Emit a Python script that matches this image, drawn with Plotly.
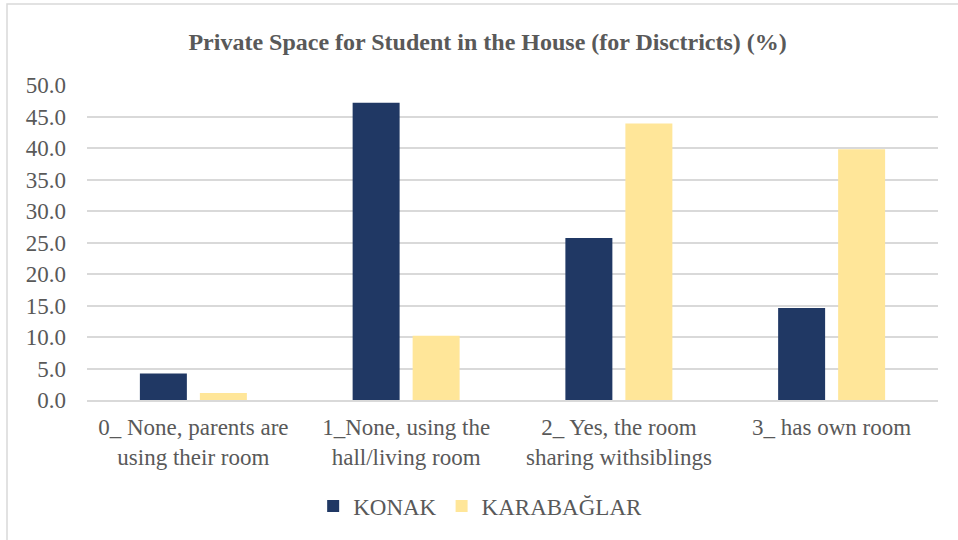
import plotly.graph_objects as go

# Share of students with a private study space, by district (%)
categories = [
    "0_ None, parents are<br>using their room",
    "1_None, using the<br>hall/living room",
    "2_ Yes, the room<br>sharing withsiblings",
    "3_ has own room",
]
konak = [4.2, 47.2, 25.7, 14.6]
karabaglar = [1.1, 10.2, 43.9, 39.8]
y_ticks = [0, 5, 10, 15, 20, 25, 30, 35, 40, 45, 50]

SERIF = "Liberation Serif"
TEXT = "#595959"
GRID = "#D9D9D9"
FS = 23

fig = go.Figure()
fig.add_trace(go.Bar(name="KONAK", x=categories, y=konak,
                     marker=dict(color="#203864", line=dict(width=0))))
fig.add_trace(go.Bar(name="KARABAĞLAR", x=categories, y=karabaglar,
                     marker=dict(color="#FFE699", line=dict(width=0))))

fig.update_layout(
    width=958, height=540,
    margin=dict(l=87, r=20, t=85, b=140),
    paper_bgcolor="white", plot_bgcolor="white",
    barmode="group", bargap=0.436, bargroupgap=0.2167,
    font=dict(family=SERIF, color=TEXT, size=FS),
    title=dict(
        text="<b>Private Space for Student in the House (for Disctricts) (%)</b>",
        font=dict(family=SERIF, size=24, color=TEXT),
        x=0.509, xanchor="center", xref="container",
        y=1 - 42 / 540, yanchor="middle", yref="container",
    ),
    legend=dict(
        orientation="h", x=0.462, xanchor="center",
        y=-0.337, yanchor="middle",
        font=dict(family=SERIF, size=FS, color=TEXT),
        itemwidth=30, traceorder="normal",
    ),
    xaxis=dict(
        showgrid=False, showline=True, linecolor=GRID, linewidth=1.5,
        ticks="", tickfont=dict(family=SERIF, size=FS, color=TEXT),
        ticklabelstandoff=6,
    ),
    yaxis=dict(
        range=[0, 50], tickvals=y_ticks, tickformat=".1f",
        showgrid=True, gridcolor=GRID, gridwidth=1.5,
        zeroline=False, showline=False, ticks="",
        tickfont=dict(family=SERIF, size=FS, color=TEXT),
        ticklabelstandoff=20,
    ),
    shapes=[dict(
        type="rect", xref="paper", yref="paper",
        x0=(7 - 87) / 851, x1=(970 - 87) / 851,
        y0=(400 - 560) / 315, y1=(400 - 4) / 315,
        line=dict(color="#D9D9D9", width=1.5), fillcolor="rgba(0,0,0,0)",
        layer="below",
    )],
)

fig.write_html("out.html")
